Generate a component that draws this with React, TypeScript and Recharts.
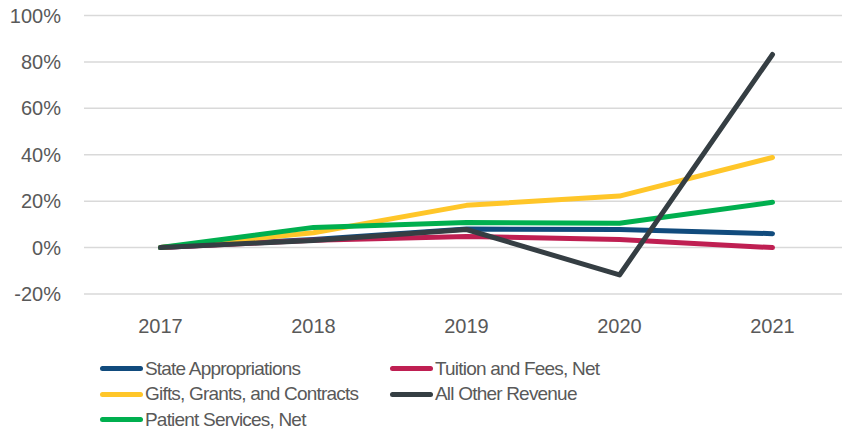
import React from 'react';
import { LineChart, Line, XAxis, YAxis, CartesianGrid } from 'recharts';

const years = ['2017', '2018', '2019', '2020', '2021'];

// growth since 2017, percent
const stateAppropriations = [0, 3.5, 8, 7.8, 6];
const tuitionAndFees = [0, 3.2, 4.8, 3.5, 0];
const giftsGrants = [0, 6.4, 18.2, 22.2, 38.8];
const allOtherRevenue = [0, 3.1, 7.8, -11.8, 83.2];
const patientServices = [0, 8.7, 10.8, 10.5, 19.5];

const yTicks = [-20, 0, 20, 40, 60, 80, 100];

const SERIES = [
  { key: 'state', name: 'State Appropriations', values: stateAppropriations, color: '#114B7D' },
  { key: 'tuition', name: 'Tuition and Fees, Net', values: tuitionAndFees, color: '#BF1F52' },
  { key: 'gifts', name: 'Gifts, Grants, and Contracts', values: giftsGrants, color: '#FFC629' },
  { key: 'other', name: 'All Other Revenue', values: allOtherRevenue, color: '#353E43' },
  { key: 'patient', name: 'Patient Services, Net', values: patientServices, color: '#00AF4F' },
];

// draw order so the dark line sits on top where the reference has it
const DRAW_ORDER = ['state', 'tuition', 'gifts', 'patient', 'other'];

const data = years.map((year, i) => {
  const row: Record<string, number | string> = { year };
  SERIES.forEach(s => { row[s.key] = s.values[i]; });
  return row;
});

const TEXT = '#595959';
const AXIS_FONT = '"Liberation Sans", Arial, sans-serif';

function LegendBlock() {
  // two columns, filled row by row
  const rows: typeof SERIES[] = [];
  for (let i = 0; i < SERIES.length; i += 2) rows.push(SERIES.slice(i, i + 2));
  return (
    <div style={{ position: 'absolute', left: 100, top: 356, fontFamily: AXIS_FONT, fontSize: 19, letterSpacing: -0.8, color: TEXT, whiteSpace: 'nowrap' }}>
      {rows.map((row, r) => (
        <div key={r} style={{ display: 'flex', height: 25.5, alignItems: 'center' }}>
          {row.map(s => (
            <div key={s.key} style={{ display: 'flex', alignItems: 'center', width: 290 }}>
              <span style={{ display: 'inline-block', width: 43, height: 5, borderRadius: 3, background: s.color, marginRight: 2 }} />
              <span>{s.name}</span>
            </div>
          ))}
        </div>
      ))}
    </div>
  );
}

export default function App() {
  return (
    <div style={{ position: 'absolute', left: 0, top: 0, width: 842, height: 436, overflow: 'hidden', background: '#fff' }}>
      <LineChart width={849} height={436} data={data} margin={{ top: 15.5, right: 0, bottom: 102, left: 0 }}>
        <CartesianGrid vertical={false} stroke="#D9D9D9" strokeWidth={1.5} />
        <XAxis
          dataKey="year"
          axisLine={false}
          tickLine={false}
          tickSize={0}
          tickMargin={25}
          height={40}
          padding={{ left: 76.5, right: 76.5 }}
          tick={{ fill: TEXT, fontSize: 20, fontFamily: AXIS_FONT }}
        />
        <YAxis
          width={84}
          domain={[-20, 100]}
          ticks={yTicks}
          interval={0}
          axisLine={false}
          tickLine={false}
          tickSize={0}
          tickMargin={23}
          tickFormatter={(v: number) => `${v}%`}
          tick={{ fill: TEXT, fontSize: 20, fontFamily: AXIS_FONT }}
        />
        {DRAW_ORDER.map(k => {
          const s = SERIES.find(x => x.key === k)!;
          return (
            <Line
              key={s.key}
              type="linear"
              dataKey={s.key}
              name={s.name}
              stroke={s.color}
              strokeWidth={5}
              strokeLinecap="round"
              strokeLinejoin="round"
              dot={false}
              activeDot={false}
              isAnimationActive={false}
            />
          );
        })}
      </LineChart>
      <LegendBlock />
    </div>
  );
}
